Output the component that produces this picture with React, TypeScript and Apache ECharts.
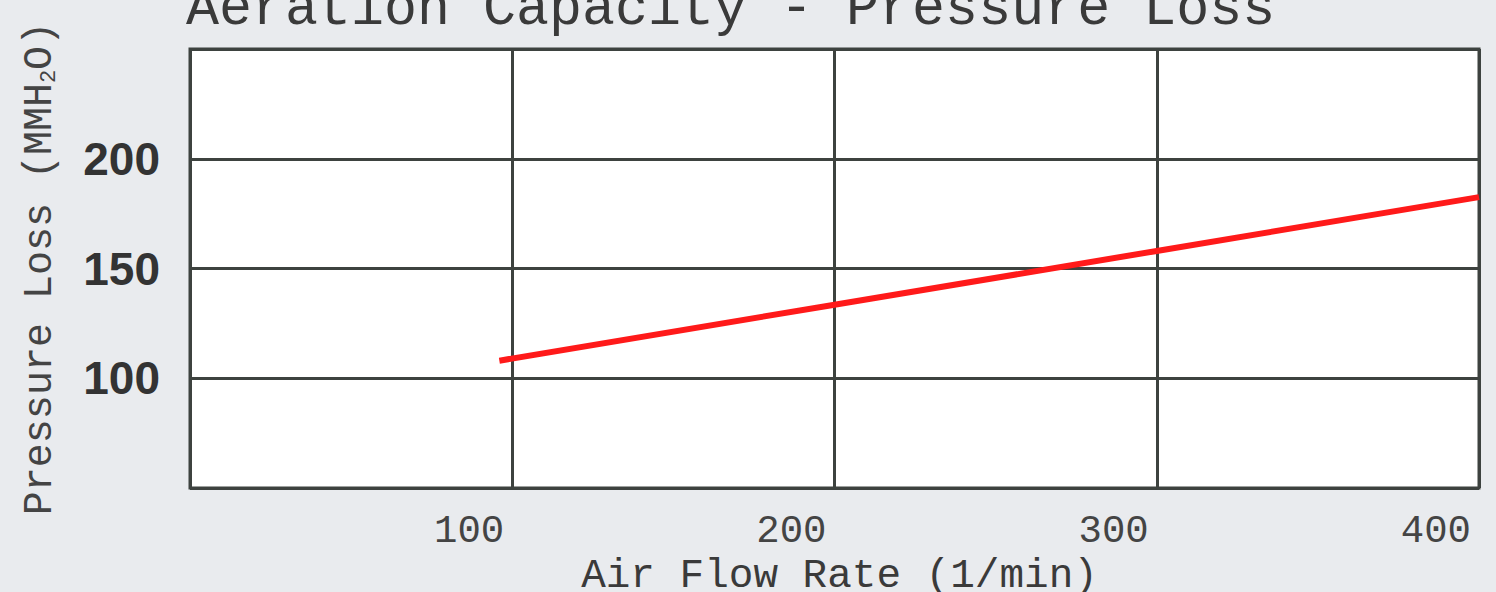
import React, { useEffect, useRef } from "react";
import * as echarts from "echarts";

const titleText = "Aeration Capacity - Pressure Loss";
const xAxisName = "Air Flow Rate (1/min)";
const yAxisNameRich = "Pressure Loss (MMH{sub|2}O)";
const airFlow = [96, 200, 300, 400];
const pressureLoss = [108, 133.5, 158, 182.5];
const xTicks = [0, 100, 200, 300, 400];
const yTicks = [50, 100, 150, 200, 250];

export default function App() {
  const ref = useRef<HTMLDivElement>(null);
  useEffect(() => {
    if (!ref.current) return;
    const chart = echarts.init(ref.current, null, { renderer: "svg" });
    const mono = "'Liberation Mono', 'Courier New', monospace";
    chart.setOption({
      animation: false,
      backgroundColor: "#e9ebee",
      title: {
        text: titleText,
        left: 186,
        top: -18,
        padding: 0,
        textStyle: { fontFamily: mono, fontSize: 55, fontWeight: "normal", color: "#3a3a3a" },
      },
      grid: {
        left: 190,
        right: 17,
        top: 49,
        bottom: 104,
        outerBoundsMode: "none",
        containLabel: false,
        show: true,
        backgroundColor: "#ffffff",
        borderColor: "#3d423f",
        borderWidth: 3,
      },
      xAxis: {
        type: "value",
        min: xTicks[0],
        max: xTicks[xTicks.length - 1],
        interval: 100,
        name: xAxisName,
        nameLocation: "middle",
        nameGap: 61,
        nameTextStyle: { fontFamily: mono, fontSize: 41, lineHeight: 40, color: "#3a3a3a", padding: [0, 0, 0, 10] },
        axisLine: { show: false },
        axisTick: { show: false },
        splitLine: { show: true, lineStyle: { color: "#3d423f", width: 3 } },
        axisLabel: {
          showMinLabel: false,
          align: "right",
          margin: 24,
          padding: [0, 8, 0, 0],
          fontFamily: mono,
          fontSize: 39,
          color: "#444444",
        },
      },
      yAxis: {
        type: "value",
        min: yTicks[0],
        max: yTicks[yTicks.length - 1],
        interval: 50,
        name: yAxisNameRich,
        nameLocation: "middle",
        nameRotate: 90,
        nameGap: 130,
        nameTextStyle: {
          fontFamily: mono,
          fontSize: 40,
          color: "#444444",
          rich: {
            sub: { fontFamily: mono, fontSize: 22, color: "#444444", verticalAlign: "bottom", padding: [12, 0, 0, 0] },
          },
        },
        axisLine: { show: false },
        axisTick: { show: false },
        splitLine: { show: true, lineStyle: { color: "#3d423f", width: 3 } },
        axisLabel: {
          showMinLabel: false,
          showMaxLabel: false,
          margin: 30,
          fontFamily: "'Liberation Sans', Arial, sans-serif",
          fontWeight: "bold",
          fontSize: 46,
          color: "#333333",
        },
      },
      series: [
        {
          type: "line",
          data: airFlow.map((x, i) => [x, pressureLoss[i]]),
          showSymbol: false,
          lineStyle: { color: "#ff1a1a", width: 6 },
          z: 5,
        },
      ],
    });
    return () => chart.dispose();
  }, []);
  return (
    <div
      ref={ref}
      style={{ position: "absolute", left: 0, top: 0, width: 1496, height: 592 }}
    />
  );
}
